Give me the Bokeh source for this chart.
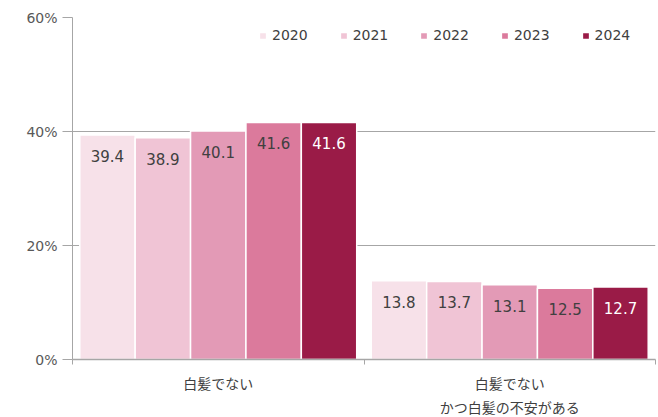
from bokeh.plotting import figure
from bokeh.models import (Range1d, LinearAxis, FixedTicker,
                          PrintfTickFormatter, ColumnDataSource, LabelSet, Legend, LegendItem)
from bokeh.core.properties import value
from bokeh.transform import dodge
from bokeh.embed import file_html
from bokeh.resources import INLINE

categories = ["白髪でない", "白髪でない\nかつ白髪の不安がある"]
years = ["2020", "2021", "2022", "2023", "2024"]
v2020 = [39.4, 13.8]
v2021 = [38.9, 13.7]
v2022 = [40.1, 13.1]
v2023 = [41.6, 12.5]
v2024 = [41.6, 12.7]
series = [v2020, v2021, v2022, v2023, v2024]
colors = ["#f7e1e9", "#f0c4d5", "#e39ab6", "#db7a9c", "#9a1b47"]
label_colors = ["#404040", "#404040", "#404040", "#404040", "#ffffff"]
yticks = [0, 20, 40, 60]

n = len(categories)
centers = [i + 0.5 for i in range(n)]
bounds = list(range(n + 1))

GRAY = "#a6a6a6"
p = figure(x_range=Range1d(0, n), y_range=Range1d(0, 60),
           frame_width=583, frame_height=342, output_backend="svg", toolbar_location=None,
           x_axis_location=None, y_axis_location=None,
           min_border_left=72, min_border_right=3, min_border_top=17, min_border_bottom=14)
p.outline_line_color = None
p.background_fill_color = "white"
p.border_fill_color = "white"

# y axis
yax = LinearAxis(ticker=FixedTicker(ticks=yticks), formatter=PrintfTickFormatter(format="%d%%"))
yax.axis_line_color = GRAY
yax.major_tick_line_color = GRAY
yax.major_tick_out = 10
yax.major_tick_in = 0
yax.minor_tick_line_color = None
yax.major_label_text_font = "DejaVu Sans"
yax.major_label_text_font_size = "14px"
yax.major_label_text_color = "#595959"
yax.major_label_standoff = 5
p.add_layout(yax, "left")

# separator axis (ticks at category boundaries)
sep = LinearAxis(ticker=FixedTicker(ticks=bounds),
                 major_label_overrides={b: "" for b in bounds})
sep.axis_line_color = GRAY
sep.axis_line_width = 1.5
sep.major_tick_line_color = GRAY
sep.major_tick_out = 5
sep.major_tick_in = 0
sep.minor_tick_line_color = None
sep.major_label_text_font_size = "1px"
sep.major_label_standoff = 0
p.add_layout(sep, "below")

cax = LinearAxis(ticker=FixedTicker(ticks=centers),
                 major_label_overrides={c: lab for c, lab in zip(centers, categories)})
cax.axis_line_color = None
cax.major_tick_line_color = None
cax.minor_tick_line_color = None
cax.major_label_text_font = "Noto Sans CJK JP"
cax.major_label_text_font_size = "14px"
cax.major_label_text_color = "#404040"
cax.major_label_text_line_height = 1.22
cax.major_label_standoff = 2
p.add_layout(cax, "below")

p.ygrid.ticker = FixedTicker(ticks=yticks)
p.ygrid.grid_line_color = GRAY
p.xgrid.grid_line_color = None

pitch = 0.19
items = []
for i, (yr, vals) in enumerate(zip(years, series)):
    off = (i - 2) * pitch
    src = ColumnDataSource(dict(x=centers, val=vals, txt=[f"{v:.1f}" for v in vals]))
    r = p.vbar(x=dodge("x", off), top="val", width=pitch, source=src,
               fill_color=colors[i], line_color="white", line_width=1.5)
    items.append(LegendItem(label=yr, renderers=[r]))
    lab = LabelSet(x=dodge("x", off), y="val", text="txt", source=src,
                   text_align="center", text_baseline="middle", y_offset=-21,
                   text_font=value("DejaVu Sans"), text_font_size=value("15px"),
                   text_color=value(label_colors[i]))
    p.add_layout(lab)

legend = Legend(items=items, orientation="horizontal", location=(186, 316))
legend.border_line_color = None
legend.background_fill_alpha = 0
legend.padding = 0
legend.margin = 0
legend.spacing = 31
legend.glyph_width = 9
legend.glyph_height = 9
legend.label_standoff = 5
legend.label_text_font = "DejaVu Sans"
legend.label_text_font_size = "14px"
legend.label_text_color = "#404040"
legend.label_height = 16
p.add_layout(legend, "center")

open("out.html", "w").write(file_html(p, INLINE))
